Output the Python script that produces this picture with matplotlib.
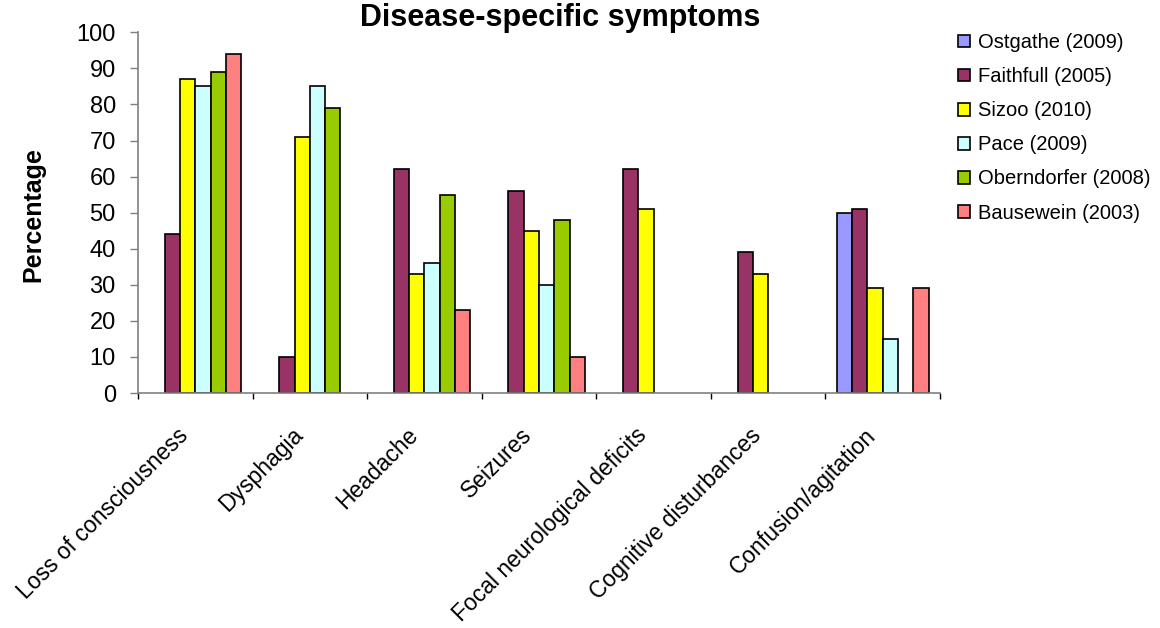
import numpy as np
import matplotlib.pyplot as plt

plt.rcParams['font.family'] = ['Liberation Sans', 'DejaVu Sans']

categories = ['Loss of consciousness', 'Dysphagia', 'Headache', 'Seizures',
              'Focal neurological deficits', 'Cognitive disturbances',
              'Confusion/agitation']

studies = ['Ostgathe (2009)', 'Faithfull (2005)', 'Sizoo (2010)',
           'Pace (2009)', 'Oberndorfer (2008)', 'Bausewein (2003)']
colors = ['#9999FF', '#993366', '#FFFF00', '#CCFFFF', '#99CC00', '#FF8080']

# nan = not reported
nan = np.nan
ostgathe = [nan, nan, nan, nan, nan, nan, 50]
faithfull = [44, 10, 62, 56, 62, 39, 51]
sizoo = [87, 71, 33, 45, 51, 33, 29]
pace = [85, 85, 36, 30, nan, nan, 15]
oberndorfer = [89, 79, 55, 48, nan, nan, nan]
bausewein = [94, nan, 23, 10, nan, nan, 29]

series = [ostgathe, faithfull, sizoo, pace, oberndorfer, bausewein]

fig = plt.figure(figsize=(11.6, 6.28), dpi=100)
ax = fig.add_axes([138 / 1160, 1 - 393 / 628, (940 - 138) / 1160, (393 - 32.3) / 628])

x = np.arange(len(categories))
n = len(series)
bw = 1 / (n + 1.5)  # excel gap width 150%
for i, (vals, name, c) in enumerate(zip(series, studies, colors)):
    offs = (i - (n - 1) / 2) * bw
    ax.bar(x + offs, vals, width=bw, color=c, edgecolor='black',
           linewidth=1.2, label=name)

ax.set_xlim(-0.5, len(categories) - 0.5)
ax.set_ylim(0, 100)
ax.set_yticks(range(0, 101, 10))
ax.tick_params(axis='y', labelsize=17, length=6, color='#808080', width=1, pad=10)

ax.set_xticks(np.arange(len(categories) + 1) - 0.5)
ax.set_xticklabels([])
ax.tick_params(axis='x', length=4.5, color='black', width=1)
for xi, lab in zip(x, categories):
    ax.text(xi - 0.16, -8.5, lab, rotation=45, ha='right', va='top',
            rotation_mode='anchor', fontsize=16.5,
            transform=ax.transData)

for s in ['top', 'right']:
    ax.spines[s].set_visible(False)
ax.spines['left'].set_color('#808080')
ax.spines['bottom'].set_color('#808080')
ax.spines['left'].set_linewidth(1.2)
ax.spines['bottom'].set_linewidth(1.2)

fig.text(33 / 1160, 1 - 215 / 628, 'Percentage', rotation=90, ha='center',
         va='center', fontsize=18, fontweight='bold')
fig.text(560 / 1160, 1 - 26 / 628, 'Disease-specific symptoms', ha='center',
         va='baseline', fontsize=22, fontweight='bold')

leg = ax.legend(loc='upper left', bbox_to_anchor=(948 / 1160, 1 - 23 / 628),
                bbox_transform=fig.transFigure, frameon=False, fontsize=14.5,
                handlelength=0.6, handleheight=0.6, handletextpad=0.4,
                labelspacing=0.75, borderpad=0)

fig.savefig('out.png', dpi=100)
